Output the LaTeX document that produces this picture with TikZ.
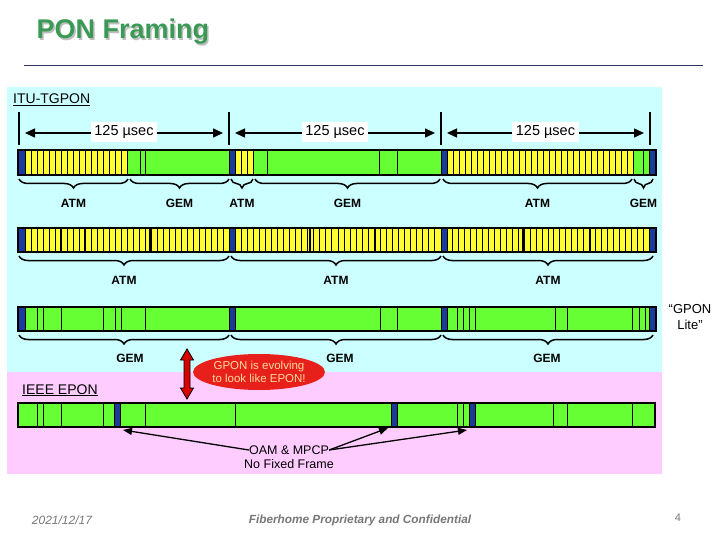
\documentclass[tikz,border=0pt]{standalone}
\usepackage{fontspec}
\setmainfont{Liberation Sans}
\usetikzlibrary{decorations.pathreplacing,arrows.meta,shapes.geometric}
\definecolor{bgcyan}{HTML}{CCFFFF}
\definecolor{bgpink}{HTML}{FFCCFF}
\definecolor{cellgreen}{HTML}{66FF33}
\definecolor{cellyellow}{HTML}{FFFF33}
\definecolor{hdrblue}{HTML}{1A3A9C}
\definecolor{titlegreen}{HTML}{3A9A55}
\definecolor{rulecol}{HTML}{333366}
\definecolor{footgray}{HTML}{777777}
\definecolor{ellred}{HTML}{E8201C}
\definecolor{elltext}{HTML}{FFD9A0}
\begin{document}
\begin{tikzpicture}[x=1pt,y=-1pt,
  barout/.style={draw=black,line width=1.3pt},
  ycell/.style={fill=cellyellow,draw=black,line width=0.9pt},
  bcell/.style={fill=hdrblue,draw=black,line width=0.9pt},
  sep/.style={draw=black,line width=0.9pt},
  brc/.style={decorate,decoration={brace,mirror,amplitude=9pt},line width=1.5pt},
  blab/.style={font=\bfseries\fontsize{12}{14}\selectfont},
  tick/.style={line width=1.5pt},
  parr/.style={line width=1.5pt,{Triangle[length=10pt,width=9pt]}-{Triangle[length=10pt,width=9pt]}},
  plab/.style={fill=white,inner sep=3.5pt,font=\fontsize{14.5}{17}\selectfont},
  larr/.style={line width=1.3pt,-{Triangle[length=9pt,width=7pt]}},
  txt/.style={font=\fontsize{12.5}{14}\selectfont,inner sep=0pt}]
\useasboundingbox (0,0) rectangle (720,540);
% title
\node[anchor=base west,text=black!25,font=\bfseries\fontsize{27}{30}\selectfont] at (34.5,40.5) {PON Framing};
\node (title) [anchor=base west,text=titlegreen,font=\bfseries\fontsize{27}{30}\selectfont] at (33,39) {PON Framing};
\draw[rulecol,line width=1pt] (24,66) -- (703,66);
% backgrounds
\fill[bgcyan] (7,87) rectangle (662,372);
\fill[bgpink] (7,372) rectangle (662,474);
\node (itu) [anchor=base west,font=\fontsize{14}{16}\selectfont,inner sep=0pt] at (13,104) {\underline{ITU-TGPON}};
\node (ieee) [anchor=base west,font=\fontsize{14}{16}\selectfont,inner sep=0pt] at (22,394) {\underline{IEEE EPON}};
% ---------- 125 usec markers
\foreach \x/\n in {19/t0,229/t1,441/t2,650/t3}{
  \coordinate (\n a) at (\x,112);
  \coordinate (\n b) at (\x,145);
  \draw[tick] (\n a) -- (\n b);
}
\foreach \a/\b/\n in {19/229/p1,229/441/p2,441/650/p3}{
  \coordinate (\n l) at (\a+6,133);
  \coordinate (\n r) at (\b-6,133);
  \draw[parr] (\n l) -- (\n r);
  \node (\n) [plab] at ({(\a+\b)/2},132) {125 µsec};
}
% ---------- Row 1
\fill[cellgreen] (18,150) rectangle (656,175);
\foreach \i in {0,...,16}{\draw[ycell] (25+6*\i,150) rectangle (31+6*\i,175);}
\foreach \i in {0,...,2}{\draw[ycell] (235+6*\i,150) rectangle (241+6*\i,175);}
\foreach \i in {0,...,30}{\draw[ycell] (447+6*\i,150) rectangle (453+6*\i,175);}
\foreach \x in {140,145,267,379,397,643}{\draw[sep] (\x,150) -- (\x,175);}
\foreach \a/\b in {18/25,229/235,441/447,649/656}{\draw[bcell] (\a,150) rectangle (\b,175);}
\draw[barout] (18,150) rectangle (656,175);
% braces row 1
\foreach \a/\b/\t in {19/128/ATM,130/229/GEM,231/253/ATM,255/440/GEM,443/632/ATM,634/653/GEM}{
  \draw[brc] (\a,179) -- (\b,179);
  \node[blab] at ({(\a+\b)/2},203) {\t};
}
% ---------- Row 2
\fill[cellyellow] (18,228) rectangle (656,252);
\foreach \a/\b in {25/229,235/441,447/649}{
  \foreach \i in {0,...,33}{\draw[ycell] ({\a+(\b-\a)*\i/34},228) rectangle ({\a+(\b-\a)*(\i+1)/34},252);}
}
\foreach \x in {61,85,150,310,375,523,590}{\draw[black,line width=1.6pt] (\x,228) -- (\x,252);}
\foreach \a/\b in {18/25,229/235,441/447,649/656}{\draw[bcell] (\a,228) rectangle (\b,252);}
\draw[barout] (18,228) rectangle (656,252);
\foreach \a/\b in {19/229,231/441,443/653}{
  \draw[brc] (\a,256) -- (\b,256);
  \node[blab] at ({(\a+\b)/2},280) {ATM};
}
% ---------- Row 3
\fill[cellgreen] (18,307) rectangle (656,331);
\foreach \x in {37,43,61,103,115,121,145,380,397,457,463,469,475,555,567,632,639,645}{\draw[sep] (\x,307) -- (\x,331);}
\foreach \a/\b in {18/25,229/235,441/447,649/656}{\draw[bcell] (\a,307) rectangle (\b,331);}
\draw[barout] (18,307) rectangle (656,331);
\foreach \a/\b in {19/229,231/441,443/653}{
  \draw[brc] (\a,335) -- (\b,335);
}
\node (g1) [blab] at (130,358) {GEM};
\node (g3) [blab] at (547,358) {GEM};
\node (lite) [align=center,font=\fontsize{13}{16}\selectfont,inner sep=0pt] at (690,317) {“GPON\\ Lite”};
% red double arrow
\filldraw[fill=red!85!black,draw=black,line width=0.8pt]
  (187,349) -- (193.5,360) -- (190,360) -- (190,388) -- (193.5,388) -- (187,399)
  -- (180.5,388) -- (184,388) -- (184,360) -- (180.5,360) -- cycle;
\node (ell) [ellipse,fill=ellred,minimum width=124pt,minimum height=36pt,inner sep=0pt,
  align=center,text=elltext,font=\fontsize{11.5}{13}\selectfont] at (259,372) {GPON is evolving\\to look like EPON!};
\node (g2) [blab] at (340,358) {GEM};
% ---------- Row 4
\fill[cellgreen] (18,403) rectangle (655,427);
\foreach \x in {37,43,61,103,145,235,457,463,553,567,632}{\draw[sep] (\x,403) -- (\x,427);}
\foreach \a/\b in {114/120,391/397,469/475}{\draw[bcell] (\a,403) rectangle (\b,427);}
\draw[barout] (18,403) rectangle (655,427);
\coordinate (h1) at (123,430);
\coordinate (h2) at (388,428);
\coordinate (h3) at (467,430);
\node (oam) [txt] at (289,450) {OAM \& MPCP};
\node (nff) [txt] at (289,464) {No Fixed Frame};
\draw[larr] (oam.west) -- (h1);
\draw[larr] (oam.east) -- (h2);
\draw[larr] (oam.east) -- (h3);
% footer
\node (date) [text=footgray,font=\itshape\fontsize{12}{14}\selectfont] at (62,520) {2021/12/17};
\node (conf) [text=footgray,font=\bfseries\itshape\fontsize{11.8}{14}\selectfont] at (360,520) {Fiberhome Proprietary and Confidential};
\node (pg) [text=footgray,font=\fontsize{11}{13}\selectfont] at (678,518) {4};
\end{tikzpicture}
\end{document}
